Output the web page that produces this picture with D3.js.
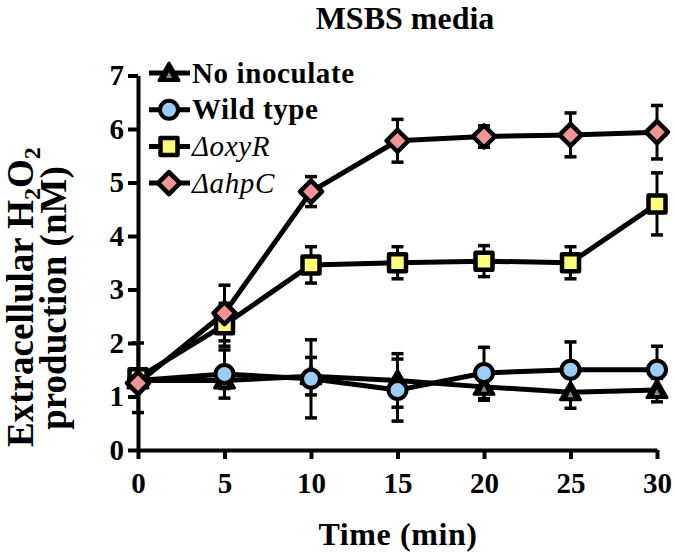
<!DOCTYPE html>
<html><head><meta charset="utf-8">
<script src="https://cdn.jsdelivr.net/npm/d3@7"></script>
</head>
<body style="margin:0;background:#fff">
<svg id="c" width="675" height="556" font-family="Liberation Serif"></svg>
<script>
const times = [0, 5, 10, 15, 20, 25, 30];
const noInoculate = [1.30, 1.30, 1.38, 1.30, 1.18, 1.08, 1.12];
const noInoculateErr = [0.10, 0.15, 0.35, 0.50, 0.25, 0.30, 0.22];
const wildType = [1.30, 1.42, 1.33, 1.12, 1.44, 1.50, 1.50];
const wildTypeErr = [0.10, 0.45, 0.73, 0.58, 0.48, 0.52, 0.44];
const oxyR = [1.35, 2.34, 3.46, 3.50, 3.53, 3.50, 4.60];
const oxyRErr = [0.65, 0.40, 0.34, 0.30, 0.29, 0.30, 0.58];
const ahpC = [1.25, 2.56, 4.83, 5.78, 5.86, 5.89, 5.94];
const ahpCErr = [0.10, 0.52, 0.28, 0.40, 0.20, 0.41, 0.50];
const yTicks = [0, 1, 2, 3, 4, 5, 6, 7];
const xTicks = [0, 5, 10, 15, 20, 25, 30];
const seriesNames = ["No inoculate", "Wild type", "\u0394oxyR", "\u0394ahpC"];

const FONT = "Liberation Serif";
const series = [
  {name: seriesNames[0], vals: noInoculate, err: noInoculateErr, shape: "triangle", fill: "#000", italic: false},
  {name: seriesNames[1], vals: wildType, err: wildTypeErr, shape: "circle", fill: "#9ccdf4", italic: false},
  {name: seriesNames[2], vals: oxyR, err: oxyRErr, shape: "square", fill: "#ffff78", italic: true},
  {name: seriesNames[3], vals: ahpC, err: ahpCErr, shape: "diamond", fill: "#f09494", italic: true}
];

const svg = d3.select("#c");
const x = d3.scaleLinear().domain([0, 30]).range([138, 657]);
const y = d3.scaleLinear().domain([0, 7]).range([450, 75.5]);

// axes
const ya = svg.append("g").attr("transform", "translate(138,0)")
  .call(d3.axisLeft(y).tickValues(yTicks).tickFormat(d3.format("d")).tickSize(10).tickSizeOuter(0).tickPadding(4));
const xa = svg.append("g").attr("transform", "translate(0,450)")
  .call(d3.axisBottom(x).tickValues(xTicks).tickFormat(d3.format("d")).tickSize(9).tickSizeOuter(0).tickPadding(13));
[ya, xa].forEach(g => {
  g.attr("font-family", FONT).attr("font-size", 29);
  g.select(".domain").attr("stroke", "#000").attr("stroke-width", 4);
  g.selectAll(".tick line").attr("stroke", "#000").attr("stroke-width", 4);
  g.selectAll(".tick text").attr("fill", "#000").attr("font-family", FONT)
   .attr("font-size", 29).attr("font-weight", "bold");
});

function marker(g, shape, fill, cx, cy) {
  if (shape === "circle") {
    g.append("circle").attr("cx", cx).attr("cy", cy).attr("r", 9)
      .attr("fill", fill).attr("stroke", "#000").attr("stroke-width", 4);
  } else if (shape === "square") {
    g.append("rect").attr("x", cx - 8.5).attr("y", cy - 8.5).attr("width", 17).attr("height", 17)
      .attr("fill", fill).attr("stroke", "#000").attr("stroke-width", 4.5).attr("stroke-linejoin", "round");
  } else if (shape === "diamond") {
    const r = 11;
    g.append("path").attr("d", `M${cx},${cy - r}L${cx + r},${cy}L${cx},${cy + r}L${cx - r},${cy}Z`)
      .attr("fill", fill).attr("stroke", "#000").attr("stroke-width", 4.5).attr("stroke-linejoin", "round");
  } else {
    const s = 10;
    g.append("path").attr("d", `M${cx},${cy - s}L${cx + s},${cy + s * 0.75}L${cx - s},${cy + s * 0.75}Z`)
      .attr("fill", "#000").attr("stroke", "#000").attr("stroke-width", 3).attr("stroke-linejoin", "round");
    g.append("path").attr("d", `M${cx},${cy - 1}L${cx + 3},${cy + 5}L${cx - 3},${cy + 5}Z`).attr("fill", "#8a8a8a");
  }
}

const line = d3.line().x((d, i) => x(times[i])).y(d => y(d));

// error bars
series.forEach(s => {
  const g = svg.append("g");
  s.vals.forEach((v, i) => {
    const cx = x(times[i]);
    const top = y(v + s.err[i]), bot = y(v - s.err[i]);
    g.append("line").attr("x1", cx).attr("x2", cx).attr("y1", top).attr("y2", bot)
      .attr("stroke", "#000").attr("stroke-width", 3);
    [top, bot].forEach(yy => g.append("line").attr("x1", cx - 6).attr("x2", cx + 6).attr("y1", yy).attr("y2", yy)
      .attr("stroke", "#000").attr("stroke-width", 3.5));
  });
});
// lines and markers
series.forEach(s => {
  svg.append("path").datum(s.vals).attr("d", line).attr("fill", "none")
    .attr("stroke", "#000").attr("stroke-width", 5).attr("stroke-linejoin", "round");
});
series.forEach(s => {
  const g = svg.append("g");
  s.vals.forEach((v, i) => marker(g, s.shape, s.fill, x(times[i]), y(v)));
});

// legend
series.forEach((s, i) => {
  const ly = 73 + i * 36.7;
  const g = svg.append("g");
  g.append("line").attr("x1", 149).attr("x2", 190).attr("y1", ly).attr("y2", ly)
    .attr("stroke", "#000").attr("stroke-width", 5);
  marker(g, s.shape, s.fill, 169, ly);
  g.append("text").attr("x", 192).attr("y", ly + 9.5).text(s.name)
    .attr("font-family", FONT).attr("font-size", 29).attr("letter-spacing", 0.6)
    .attr("font-weight", s.italic ? "normal" : "bold")
    .attr("font-style", s.italic ? "italic" : "normal");
});

// titles
svg.append("text").attr("x", 405).attr("y", 29).attr("text-anchor", "middle")
  .attr("font-family", FONT).attr("font-size", 32).attr("font-weight", "bold").text("MSBS media");
svg.append("text").attr("x", 398).attr("y", 545).attr("text-anchor", "middle")
  .attr("font-family", FONT).attr("font-size", 32).attr("letter-spacing", 0.6).attr("font-weight", "bold").text("Time (min)");

const yt = svg.append("text").attr("transform", "translate(33,297) rotate(-90)").attr("text-anchor", "middle")
  .attr("font-family", FONT).attr("font-size", 37).attr("font-weight", "bold");
yt.append("tspan").text("Extracellular H");
yt.append("tspan").text("2").attr("font-size", 24).attr("dy", 7);
yt.append("tspan").text("O").attr("dy", -7);
yt.append("tspan").text("2").attr("font-size", 24).attr("dy", 7);
svg.append("text").attr("transform", "translate(66,298) rotate(-90)").attr("text-anchor", "middle")
  .attr("font-family", FONT).attr("font-size", 37).attr("font-weight", "bold").text("production (nM)");
</script></body></html>
